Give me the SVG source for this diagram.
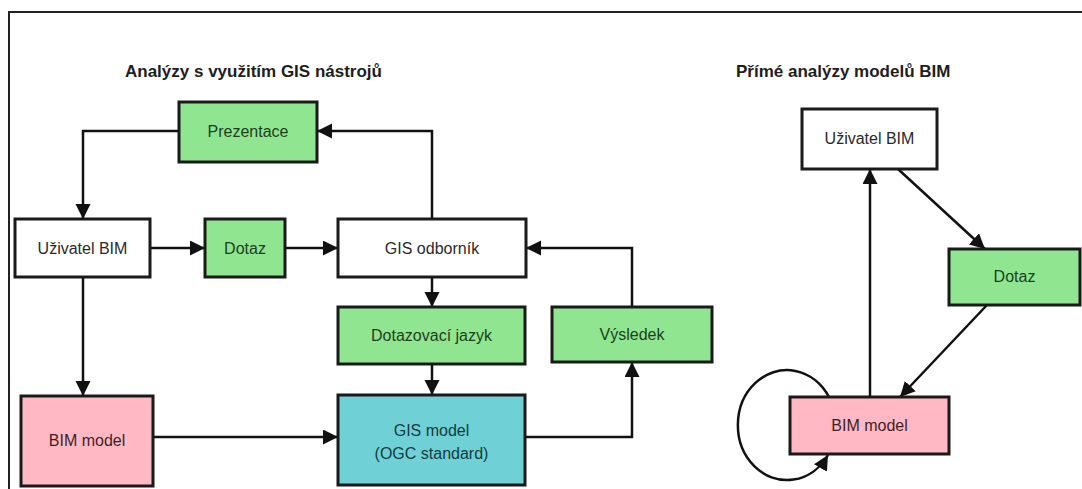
<svg xmlns="http://www.w3.org/2000/svg" width="1082" height="489" viewBox="0 0 1082 489">
  <style>
    .box { stroke: #1a1a1a; stroke-width: 3; }
    .white { fill: #ffffff; }
    .green { fill: #90e690; }
    .pink { fill: #ffb8c4; }
    .cyan { fill: #6fd0d6; }
    .lbl { font-family: "Liberation Sans", Arial, sans-serif; font-size: 16px; text-anchor: middle; }
    .t-white { fill: #2a2a2a; }
    .t-green { fill: #1d3f1d; }
    .t-pink { fill: #3f1f27; }
    .t-cyan { fill: #123c40; }
    .title { font-family: "Liberation Sans", Arial, sans-serif; font-size: 17px; font-weight: bold; fill: #1e1e1e; }
    .conn { fill: none; stroke: #111111; stroke-width: 2.5; marker-end: url(#arrow); }
    .frame { fill: none; stroke: #222222; stroke-width: 2; }
  </style>
  <defs>
    <marker id="arrow" markerUnits="userSpaceOnUse" markerWidth="16" markerHeight="16" refX="15" refY="7.5" orient="auto">
      <path d="M0,0 L15,7.5 L0,15 Z" fill="#111111"/>
    </marker>
  </defs>

  <rect width="1082" height="489" fill="#ffffff"/>
  <!-- page frame (top and left edges) -->
  <path class="frame" d="M9,489 V12 H1082"/>

  <!-- section titles -->
  <text class="title" x="125" y="77">Analýzy s využitím GIS nástrojů</text>
  <text class="title" x="736" y="77">Přímé analýzy modelů BIM</text>

  <!-- connectors -->
  <g id="connectors">
    <!-- left diagram -->
    <path class="conn" d="M179,131 H83 V219"/>
    <path class="conn" d="M432,219 V131 H317"/>
    <path class="conn" d="M150,248 H205"/>
    <path class="conn" d="M285,248 H338"/>
    <path class="conn" d="M83,277 V396"/>
    <path class="conn" d="M432,277 V307"/>
    <path class="conn" d="M432,364 V395"/>
    <path class="conn" d="M153,437 H338"/>
    <path class="conn" d="M525,437 H632 V362"/>
    <path class="conn" d="M632,307 V248 H526"/>
    <!-- right diagram -->
    <path class="conn" d="M870,397 V169"/>
    <path class="conn" d="M898,169 L985,249"/>
    <path class="conn" d="M987,305 L900,397"/>
    <path class="conn" d="M829,397 A49 55 0 1 0 828,455"/>
  </g>

  <!-- left diagram nodes -->
  <g id="prezentace">
    <rect class="box green" x="179" y="102" width="138" height="60"/>
    <text class="lbl t-green" x="248" y="137">Prezentace</text>
  </g>
  <g id="uzivatel-bim">
    <rect class="box white" x="15" y="219" width="135" height="58"/>
    <text class="lbl t-white" x="82.5" y="254">Uživatel BIM</text>
  </g>
  <g id="dotaz">
    <rect class="box green" x="205" y="219" width="80" height="58"/>
    <text class="lbl t-green" x="245" y="254">Dotaz</text>
  </g>
  <g id="gis-odbornik">
    <rect class="box white" x="338" y="219" width="188" height="58"/>
    <text class="lbl t-white" x="432" y="254">GIS odborník</text>
  </g>
  <g id="dotazovaci-jazyk">
    <rect class="box green" x="338" y="307" width="187" height="57"/>
    <text class="lbl t-green" x="431.5" y="341">Dotazovací jazyk</text>
  </g>
  <g id="vysledek">
    <rect class="box green" x="552" y="307" width="160" height="55"/>
    <text class="lbl t-green" x="632" y="340">Výsledek</text>
  </g>
  <g id="bim-model">
    <rect class="box pink" x="21" y="396" width="132" height="90"/>
    <text class="lbl t-pink" x="87" y="446">BIM model</text>
  </g>
  <g id="gis-model">
    <rect class="box cyan" x="338" y="395" width="187" height="90"/>
    <text class="lbl t-cyan" x="431.5" y="436">GIS model</text>
    <text class="lbl t-cyan" x="431.5" y="459">(OGC standard)</text>
  </g>

  <!-- right diagram nodes -->
  <g id="uzivatel-bim-2">
    <rect class="box white" x="802" y="109" width="135" height="60"/>
    <text class="lbl t-white" x="869.5" y="144">Uživatel BIM</text>
  </g>
  <g id="dotaz-2">
    <rect class="box green" x="949" y="249" width="131" height="56"/>
    <text class="lbl t-green" x="1014.5" y="282">Dotaz</text>
  </g>
  <g id="bim-model-2">
    <rect class="box pink" x="790" y="397" width="159" height="57"/>
    <text class="lbl t-pink" x="869.5" y="431">BIM model</text>
  </g>
</svg>
